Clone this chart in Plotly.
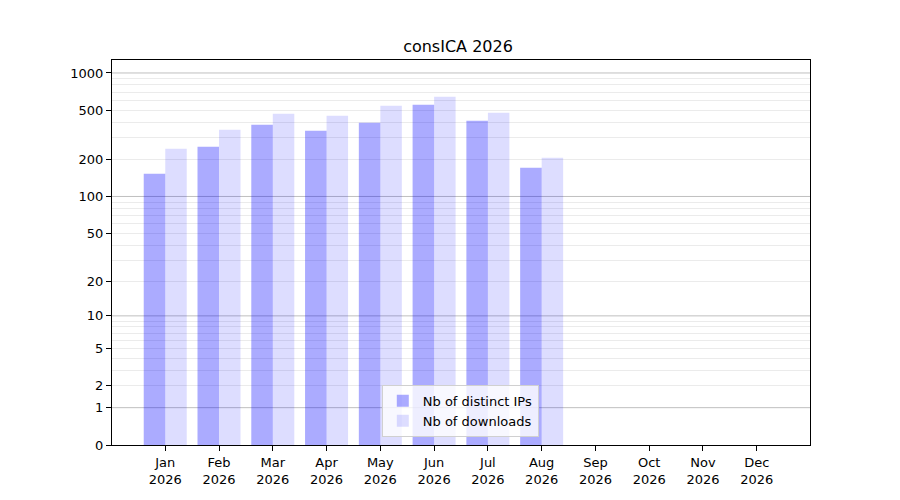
import plotly.graph_objects as go

# Data
months = ['Jan', 'Feb', 'Mar', 'Apr', 'May', 'Jun',
          'Jul', 'Aug', 'Sep', 'Oct', 'Nov', 'Dec']
year = '2026'
distinct_ips = [153, 253, 382, 341, 396, 554, 411, 171, 0, 0, 0, 0]
downloads = [244, 348, 469, 451, 544, 643, 477, 206, 0, 0, 0, 0]

# y axis is log10(1 + x): plot on a log axis with values shifted by one
y_ticks = [0, 1, 2, 5, 10, 20, 50, 100, 200, 500, 1000]
major_grid = [1, 10, 100, 1000]
minor_grid = [m * d for d in (1, 10, 100) for m in range(2, 10)]

labels = [m + '<br>' + year for m in months]
shift = lambda vals: [v + 1 for v in vals]

fig = go.Figure()

fig.add_trace(go.Bar(name='Nb of distinct IPs', x=labels, y=shift(distinct_ips),
                     marker=dict(color='rgba(0,0,255,0.33)', line_width=0)))
fig.add_trace(go.Bar(name='Nb of downloads', x=labels, y=shift(downloads),
                     marker=dict(color='rgba(0,0,255,0.135)', line_width=0)))

# darker grid lines at the decades
for g in major_grid:
    fig.add_shape(type='line', xref='paper', yref='y', x0=0, x1=1, y0=g + 1, y1=g + 1,
                  line=dict(color='rgba(0,0,0,0.25)', width=1), layer='below')

font_family = 'DejaVu Sans'

fig.update_layout(
    width=900, height=500,
    paper_bgcolor='white', plot_bgcolor='white',
    font=dict(family=font_family, size=13, color='black'),
    title=dict(text='consICA 2026', x=0.5, xanchor='center', y=0.924, yanchor='middle',
               font=dict(family=font_family, size=16, color='black')),
    margin=dict(l=104, r=98, t=52, b=63),
    barmode='group', bargap=0.2, bargroupgap=0,
    xaxis=dict(
        range=[-0.99, 11.99],
        showgrid=False, zeroline=False,
        showline=True, linecolor='black', linewidth=1, mirror=True,
        ticks='outside', ticklen=5, tickcolor='black',
        tickfont=dict(family=font_family, size=13, color='black'),
    ),
    yaxis=dict(
        type='log',
        range=[0, 3.105],
        tickvals=shift(y_ticks), ticktext=[str(t) for t in y_ticks],
        showgrid=False, zeroline=False,
        showline=True, linecolor='black', linewidth=1, mirror=True,
        ticks='outside', ticklen=5, tickcolor='black',
        tickfont=dict(family=font_family, size=13, color='black'),
        minor=dict(tickvals=shift(minor_grid), showgrid=True,
                   gridcolor='rgba(0,0,0,0.08)', gridwidth=1, ticks=''),
    ),
    legend=dict(
        x=0.499, xanchor='center', y=0.021, yanchor='bottom',
        bgcolor='rgba(255,255,255,0.8)', bordercolor='#d0d0d0', borderwidth=1,
        font=dict(family=font_family, size=13, color='black'),
        traceorder='normal',
    ),
)

fig.write_html('out.html')
